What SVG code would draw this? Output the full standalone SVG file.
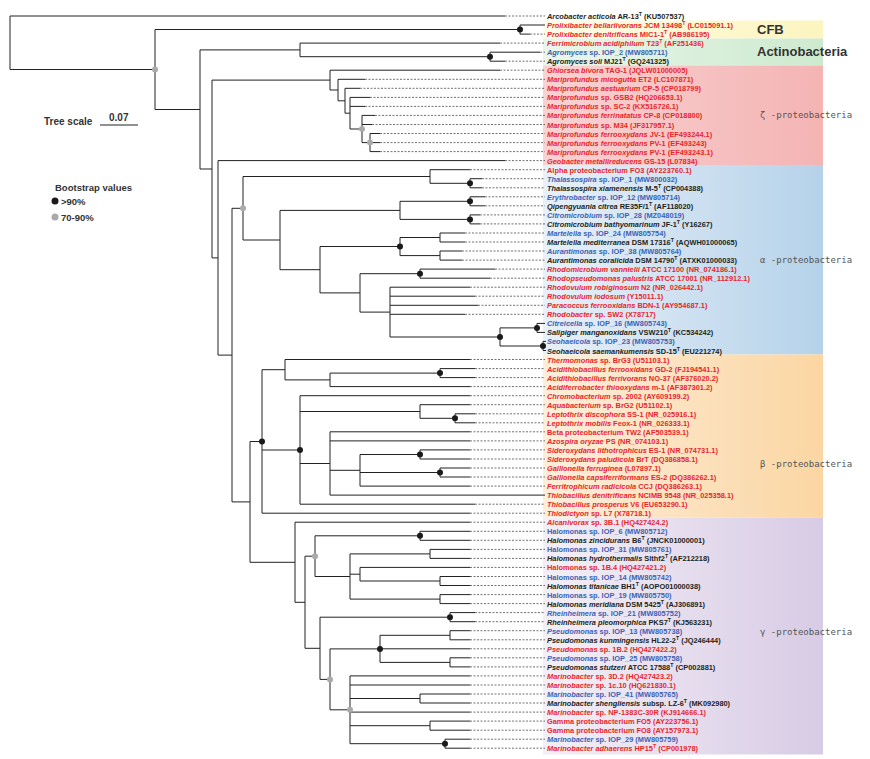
<svg xmlns="http://www.w3.org/2000/svg" width="870" height="759" viewBox="0 0 870 759">
<defs>
<style>
.t{font-family:"Liberation Sans",Arial,sans-serif;font-size:7.4px;font-weight:bold}
.r{fill:#e8262b}.b{fill:#3b62b4}.k{fill:#231f20}
.i{font-style:italic}.s{font-size:5.2px}
.br{stroke:#222;stroke-width:1;fill:none}
.ld{stroke:#333;stroke-width:0.7;stroke-dasharray:2 1.5;fill:none}
.d1{fill:#1a1a1a}.d2{fill:#aaaaaa}
.gl{font-family:"Liberation Sans",Arial,sans-serif;font-size:13px;font-weight:bold;fill:#333}
.gp{font-family:"DejaVu Sans Mono",monospace;font-size:9px;fill:#555}
.lg{font-family:"Liberation Sans",Arial,sans-serif;font-weight:bold;fill:#333}
</style>
<linearGradient id="gC" x1="0" x2="1"><stop offset="0" stop-color="#fffbe8"/><stop offset="1" stop-color="#fcf5bf"/></linearGradient>
<linearGradient id="gA" x1="0" x2="1"><stop offset="0" stop-color="#eaf6ea"/><stop offset="1" stop-color="#cdeacf"/></linearGradient>
<linearGradient id="gZ" x1="0" x2="1"><stop offset="0" stop-color="#f9d2d2"/><stop offset="1" stop-color="#f4b4b4"/></linearGradient>
<linearGradient id="gAl" x1="0" x2="1"><stop offset="0" stop-color="#e8f0f8"/><stop offset="1" stop-color="#b5d2ea"/></linearGradient>
<linearGradient id="gB" x1="0" x2="1"><stop offset="0" stop-color="#fdeedb"/><stop offset="1" stop-color="#fbd6a3"/></linearGradient>
<linearGradient id="gG" x1="0" x2="1"><stop offset="0" stop-color="#f3eff6"/><stop offset="1" stop-color="#d8cbe5"/></linearGradient>
</defs>
<rect width="870" height="759" fill="#fff"/>
<g id="bands">
<rect x="543" y="20.5" width="280" height="18" fill="url(#gC)"/>
<rect x="543" y="38.5" width="280" height="27" fill="url(#gA)"/>
<rect x="543" y="65.5" width="280" height="99.5" fill="url(#gZ)"/>
<rect x="543" y="165" width="280" height="189.5" fill="url(#gAl)"/>
<rect x="543" y="354.5" width="280" height="163" fill="url(#gB)"/>
<rect x="543" y="517.5" width="280" height="237" fill="url(#gG)"/>
<text class="gl" x="757" y="34">CFB</text>
<text class="gl" x="757" y="56">Actinobacteria</text>
<text class="gp" x="760" y="118">ζ -proteobacteria</text>
<text class="gp" x="760" y="263">α -proteobacteria</text>
<text class="gp" x="760" y="467">β -proteobacteria</text>
<text class="gp" x="760" y="635">γ -proteobacteria</text>
</g>
<g id="legend">
<text class="lg" x="44" y="125" font-size="10">Tree scale</text>
<text class="lg" x="109" y="121" font-size="10">0.07</text>
<path d="M100 125H138" class="br"/>
<text class="lg" x="55" y="191" font-size="9.5">Bootstrap values</text>
<circle cx="55" cy="201" r="3.5" class="d1"/>
<text class="lg" x="61" y="204.5" font-size="9.5" font-weight="normal">&gt;90%</text>
<circle cx="55" cy="217" r="3.5" class="d2"/>
<text class="lg" x="61" y="221" font-size="9.5" font-weight="normal">70-90%</text>
</g>
<g id="connectors">
<path class="br" d="M10 16V69.5M10 16H505M10 69.5H155
M155 29.5V109.5M155 29.5H520M155 109.5H200
M520 25V34.1M520 25H545M520 34.1H530
M200 49.9V169M200 49.9H300M200 169H212
M300 43.1V56.7M300 43.1H500M300 56.7H490M490 52.2V61.2M490 52.2H540M490 61.2H505
M212 80.1V257.9M212 80.1H330M212 257.9H218
M330 70.2V90M330 70.2H500M330 90H338M338 79.3V100.8M338 79.3H365M338 100.8H345
M345 88.3V113.2M345 88.3H360M345 113.2H350M350 97.4V129M350 97.4H370M350 106.4H365M350 129H362
M362 115.4V142.6M362 115.4H375M362 124.5H372M362 142.6H370M370 133.5V151.6M370 133.5H380M370 142.6H380M370 151.6H380
M218 160.6V355.1M218 160.6H505M218 355.1H232
M232 208.3V501.9M232 208.3H243M232 501.9H250
M243 176.5V240M243 176.5H430M243 240H280
M280 210.4V269.7M280 210.4H400M280 269.7H320
M430 169.7V183.3M430 169.7H470M430 183.3H470M470 178.7V187.8M470 178.7H482M470 187.8H482
M400 201.3V219.4M400 201.3H470M400 219.4H470M470 196.8V205.8M470 196.8H485M470 205.8H485M470 214.9V223.9M470 214.9H480M470 223.9H480
M320 246.5V292.9M320 246.5H400M320 292.9H360
M400 237.5V255.6M400 237.5H440M400 255.6H440M440 233V242M440 233H465M440 242H465M440 251V260.1M440 251H462M440 260.1H462
M360 273.7V312.1M360 273.7H420M360 312.1H390M420 269.1V278.2M420 269.1H495M420 278.2H490
M390 287.2V337M390 287.2H470M390 296.2H475M390 305.3H478M390 314.3H465M390 337H500
M500 327.9V346M500 327.9H537M500 346H543M537 323.4V332.4M537 323.4H545M537 332.4H545M543 341.4V350.5M543 341.4H546M543 350.5H546
M250 441.5V562.3M250 441.5H262M250 562.3H295
M262 369.7V513.2M262 369.7H285M262 450H300M262 513.2H470
M285 359.5V379.9M285 359.5H470M285 379.9H330M330 373.1V386.6M330 373.1H440M330 386.6H470M440 368.6V377.6M440 368.6H475M440 377.6H475
M300 395.7V504.2M300 395.7H470M300 411.5H420M300 463.5H330M300 504.2H475
M420 404.7V418.3M420 404.7H470M420 418.3H455M455 413.8V422.8M455 413.8H475M455 422.8H475
M330 431.8V495.1M330 431.8H470M330 440.9H470M330 470.3H360M330 495.1H545
M360 454.5V486.1M360 454.5H420M360 472.5H440M360 486.1H470M420 449.9V459M420 449.9H470M420 459H470M440 468V477M440 468H470M440 477H470
M295 522.2V602.3M295 522.2H470M295 602.3H305
M305 556.2V648.3M305 556.2H315M305 648.3H320
M315 535.8V576.5M315 535.8H420M315 576.5H350M420 531.3V540.3M420 531.3H470M420 540.3H470
M350 553.9V599.1M350 553.9H430M350 574.2H360M350 599.1H440M430 549.4V558.4M430 549.4H470M430 558.4H470
M360 567.4V581M360 567.4H470M360 581H440M440 576.5V585.5M440 576.5H470M440 585.5H470M440 594.6V603.6M440 594.6H470M440 603.6H470
M320 617.2V679.4M320 617.2H450M320 679.4H330M450 612.6V621.7M450 612.6H475M450 621.7H475
M330 648.9V709.8M330 648.9H380M330 709.8H350
M380 635.3V662.4M380 635.3H450M380 648.8H470M380 662.4H450M450 630.7V639.8M450 630.7H470M450 639.8H470M450 657.8V666.9M450 657.8H470M450 666.9H470
M350 675.9V743.7M350 675.9H470M350 685H470M350 698.5H420M350 712.1H470M350 725.7H430M350 743.7H445
M420 694V703M420 694H470M420 703H470M430 721.1V730.2M430 721.1H470M430 730.2H470M445 739.2V748.2M445 739.2H470M445 748.2H470"/>
<path class="ld" d="M505 16H545M530 34.1H545M500 43.1H545M540 52.2H545M505 61.2H545M500 70.2H545M365 79.3H545M360 88.3H545M370 97.4H545M365 106.4H545M375 115.4H545M372 124.5H545M380 133.5H545M380 142.6H545M380 151.6H545M505 160.6H545
M470 169.7H545M482 178.7H545M482 187.8H545M485 196.8H545M485 205.8H545M480 214.9H545M480 223.9H545M465 233H545M465 242H545M462 251H545M462 260.1H545M495 269.1H545M490 278.2H545M470 287.2H545M475 296.2H545M478 305.3H545M465 314.3H545
M470 359.5H545M475 368.6H545M475 377.6H545M470 386.6H545M470 395.7H545M470 404.7H545M475 413.8H545M475 422.8H545M470 431.8H545M470 440.9H545M470 449.9H545M470 459H545M470 468H545M470 477H545M470 486.1H545M475 504.2H545M470 513.2H545
M470 522.2H545M470 531.3H545M470 540.3H545M470 549.4H545M470 558.4H545M470 567.4H545M470 576.5H545M470 585.5H545M470 594.6H545M470 603.6H545M475 612.6H545M475 621.7H545M470 630.7H545M470 639.8H545M470 648.8H545M470 657.8H545M470 666.9H545M470 675.9H545M470 685H545M470 694H545M470 703H545M470 712.1H545M470 721.1H545M470 730.2H545M470 739.2H545M470 748.2H545"/>
<g class="d1">
<circle cx="520" cy="29.5" r="3"/><circle cx="490" cy="56.7" r="3"/><circle cx="470" cy="183.3" r="3"/><circle cx="470" cy="201.3" r="3"/><circle cx="470" cy="219.4" r="3"/><circle cx="400" cy="246.5" r="3"/><circle cx="420" cy="273.7" r="3"/><circle cx="537" cy="327.9" r="3"/><circle cx="543" cy="346" r="3"/><circle cx="500" cy="337" r="3"/><circle cx="440" cy="373.1" r="3"/><circle cx="262" cy="441.5" r="3"/><circle cx="455" cy="418.3" r="3"/><circle cx="420" cy="454.5" r="3"/><circle cx="440" cy="472.5" r="3"/><circle cx="300" cy="450" r="3"/><circle cx="420" cy="535.8" r="3"/><circle cx="450" cy="617.2" r="3"/><circle cx="380" cy="648.9" r="3"/><circle cx="445" cy="743.7" r="3"/>
</g>
<g class="d2">
<circle cx="155" cy="69.5" r="3"/><circle cx="243" cy="208.3" r="3"/><circle cx="370" cy="142.6" r="3"/><circle cx="362" cy="129" r="3"/><circle cx="315" cy="556.2" r="3"/><circle cx="330" cy="679.4" r="3"/><circle cx="350" cy="709.8" r="3"/>
</g>
</g>
<g id="leaves" class="t">
<text x="547" y="19" class="k"><tspan class="i">Arcobacter acticola</tspan> AR-13<tspan class="s" dy="-3">T</tspan><tspan dy="3"> (KU507537)</tspan></text>
<text x="547" y="28" class="r"><tspan class="i">Prolixibacter bellariivorans</tspan> JCM 13498<tspan class="s" dy="-3">T</tspan><tspan dy="3"> (LC015091.1)</tspan></text>
<text x="547" y="37.1" class="r"><tspan class="i">Prolixibacter denitrificans</tspan> MIC1-1<tspan class="s" dy="-3">T</tspan><tspan dy="3"> (AB986195)</tspan></text>
<text x="547" y="46.1" class="r"><tspan class="i">Ferrimicrobium acidiphilum</tspan> T23<tspan class="s" dy="-3">T</tspan><tspan dy="3"> (AF251436)</tspan></text>
<text x="547" y="55.2" class="b"><tspan class="i">Agromyces</tspan> sp. IOP_2 (MW805711)</text>
<text x="547" y="64.2" class="k"><tspan class="i">Agromyces soli</tspan> MJ21<tspan class="s" dy="-3">T</tspan><tspan dy="3"> (GQ241325)</tspan></text>
<text x="547" y="73.2" class="r"><tspan class="i">Ghiorsea bivora</tspan> TAG-1 (JQLW01000005)</text>
<text x="547" y="82.3" class="r"><tspan class="i">Mariprofundus micogutta</tspan> ET2 (LC107871)</text>
<text x="547" y="91.3" class="r"><tspan class="i">Mariprofundus aestuarium</tspan> CP-5 (CP018799)</text>
<text x="547" y="100.4" class="r"><tspan class="i">Mariprofundus</tspan> sp. GSB2 (HQ206653.1)</text>
<text x="547" y="109.4" class="r"><tspan class="i">Mariprofundus</tspan> sp. SC-2 (KX516726.1)</text>
<text x="547" y="118.4" class="r"><tspan class="i">Mariprofundus ferrinatatus</tspan> CP-8 (CP018800)</text>
<text x="547" y="127.5" class="r"><tspan class="i">Mariprofundus</tspan> sp. M34 (JF317957.1)</text>
<text x="547" y="136.5" class="r"><tspan class="i">Mariprofundus ferrooxydans</tspan> JV-1 (EF493244.1)</text>
<text x="547" y="145.6" class="r"><tspan class="i">Mariprofundus ferrooxydans</tspan> PV-1 (EF493243)</text>
<text x="547" y="154.6" class="r"><tspan class="i">Mariprofundus ferrooxydans</tspan> PV-1 (EF493243.1)</text>
<text x="547" y="163.6" class="r"><tspan class="i">Geobacter metallireducens</tspan> GS-15  (L07834)</text>
<text x="547" y="172.7" class="r">Alpha proteobacterium FO3 (AY223760.1)</text>
<text x="547" y="181.7" class="b"><tspan class="i">Thalassospira</tspan> sp. IOP_1 (MW800032)</text>
<text x="547" y="190.8" class="k"><tspan class="i">Thalassospira xiamenensis</tspan> M-5<tspan class="s" dy="-3">T</tspan><tspan dy="3"> (CP004388)</tspan></text>
<text x="547" y="199.8" class="b"><tspan class="i">Erythrobacter</tspan> sp. IOP_12 (MW805714)</text>
<text x="547" y="208.8" class="k"><tspan class="i">Qipengyuania citrea</tspan> RE35F/1<tspan class="s" dy="-3">T</tspan><tspan dy="3"> (AF118020)</tspan></text>
<text x="547" y="217.9" class="b"><tspan class="i">Citromicrobium</tspan> sp. IOP_28 (MZ048019)</text>
<text x="547" y="226.9" class="k"><tspan class="i">Citromicrobium bathyomarinum</tspan> JF-1<tspan class="s" dy="-3">T</tspan><tspan dy="3"> (Y16267)</tspan></text>
<text x="547" y="236" class="b"><tspan class="i">Martelella</tspan> sp. IOP_24 (MW805754)</text>
<text x="547" y="245" class="k"><tspan class="i">Martelella mediterranea</tspan> DSM 17316<tspan class="s" dy="-3">T</tspan><tspan dy="3"> (AQWH01000065)</tspan></text>
<text x="547" y="254" class="b"><tspan class="i">Aurantimonas</tspan> sp. IOP_38 (MW805764)</text>
<text x="547" y="263.1" class="k"><tspan class="i">Aurantimonas coralicida</tspan> DSM 14790<tspan class="s" dy="-3">T</tspan><tspan dy="3"> (ATXK01000033)</tspan></text>
<text x="547" y="272.1" class="r"><tspan class="i">Rhodomicrobium vannielii</tspan> ATCC 17100 (NR_074186.1)</text>
<text x="547" y="281.2" class="r"><tspan class="i">Rhodopseudomonas palustris</tspan> ATCC 17001 (NR_112912.1)</text>
<text x="547" y="290.2" class="r"><tspan class="i">Rhodovulum robiginosum</tspan> N2 (NR_026442.1)</text>
<text x="547" y="299.2" class="r"><tspan class="i">Rhodovulum iodosum</tspan> (Y15011.1)</text>
<text x="547" y="308.3" class="r"><tspan class="i">Paracoccus ferrooxidans</tspan> BDN-1 (AY954687.1)</text>
<text x="547" y="317.3" class="r"><tspan class="i">Rhodobacter</tspan> sp. SW2 (X78717)</text>
<text x="547" y="326.4" class="b"><tspan class="i">Citreicella</tspan> sp. IOP_16 (MW805743)</text>
<text x="547" y="335.4" class="k"><tspan class="i">Salipiger manganoxidans</tspan> VSW210<tspan class="s" dy="-3">T</tspan><tspan dy="3"> (KC534242)</tspan></text>
<text x="547" y="344.4" class="b"><tspan class="i">Seohaeicola</tspan> sp. IOP_23 (MW805753)</text>
<text x="547" y="353.5" class="k"><tspan class="i">Seohaeicola saemankumensis</tspan> SD-15<tspan class="s" dy="-3">T</tspan><tspan dy="3"> (EU221274)</tspan></text>
<text x="547" y="362.5" class="r"><tspan class="i">Thermomonas</tspan> sp. BrG3 (U51103.1)</text>
<text x="547" y="371.6" class="r"><tspan class="i">Acidithiobacillus ferrooxidans</tspan> GD-2 (FJ194541.1)</text>
<text x="547" y="380.6" class="r"><tspan class="i">Acidithiobacillus ferrivorans</tspan> NO-37 (AF376020.2)</text>
<text x="547" y="389.6" class="r"><tspan class="i">Acidiferrobacter thiooxydans</tspan> m-1 (AF387301.2)</text>
<text x="547" y="398.7" class="r"><tspan class="i">Chromobacterium</tspan> sp. 2002 (AY609199.2)</text>
<text x="547" y="407.7" class="r"><tspan class="i">Aquabacterium</tspan> sp. BrG2 (U51102.1)</text>
<text x="547" y="416.8" class="r"><tspan class="i">Leptothrix discophora</tspan> SS-1 (NR_025916.1)</text>
<text x="547" y="425.8" class="r"><tspan class="i">Leptothrix mobilis</tspan> Feox-1 (NR_026333.1)</text>
<text x="547" y="434.8" class="r">Beta proteobacterium TW2 (AF503539.1)</text>
<text x="547" y="443.9" class="r"><tspan class="i">Azospira oryzae</tspan> PS (NR_074103.1)</text>
<text x="547" y="452.9" class="r"><tspan class="i">Sideroxydans lithotrophicus</tspan> ES-1 (NR_074731.1)</text>
<text x="547" y="462" class="r"><tspan class="i">Sideroxydans paludicola</tspan> BrT (DQ386858.1)</text>
<text x="547" y="471" class="r"><tspan class="i">Gallionella ferruginea</tspan> (L07897.1)</text>
<text x="547" y="480" class="r"><tspan class="i">Gallionella capsiferriformans</tspan> ES-2 (DQ386262.1)</text>
<text x="547" y="489.1" class="r"><tspan class="i">Ferritrophicum radicicola</tspan> CCJ (DQ386263.1)</text>
<text x="547" y="498.1" class="r"><tspan class="i">Thiobacillus denitrificans</tspan> NCIMB 9548 (NR_025358.1)</text>
<text x="547" y="507.2" class="r"><tspan class="i">Thiobacillus prosperus</tspan> V6 (EU653290.1)</text>
<text x="547" y="516.2" class="r"><tspan class="i">Thiodictyon</tspan> sp. L7 (X78718.1)</text>
<text x="547" y="525.2" class="r"><tspan class="i">Alcanivorax</tspan> sp. 3B.1 (HQ427424.2)</text>
<text x="547" y="534.3" class="b">Halomonas sp. IOP_6 (MW805712)</text>
<text x="547" y="543.3" class="k"><tspan class="i">Halomonas zincidurans</tspan> B6<tspan class="s" dy="-3">T</tspan><tspan dy="3"> (JNCK01000001)</tspan></text>
<text x="547" y="552.4" class="b">Halomonas sp. IOP_31 (MW805761)</text>
<text x="547" y="561.4" class="k"><tspan class="i">Halomonas hydrothermalis</tspan> Slthf2<tspan class="s" dy="-3">T</tspan><tspan dy="3"> (AF212218)</tspan></text>
<text x="547" y="570.4" class="r">Halomonas sp. 1B.4 (HQ427421.2)</text>
<text x="547" y="579.5" class="b">Halomonas sp. IOP_14 (MW805742)</text>
<text x="547" y="588.5" class="k"><tspan class="i">Halomonas titanicae</tspan> BH1<tspan class="s" dy="-3">T</tspan><tspan dy="3"> (AOPO01000038)</tspan></text>
<text x="547" y="597.6" class="b">Halomonas sp. IOP_19 (MW805750)</text>
<text x="547" y="606.6" class="k"><tspan class="i">Halomonas meridiana</tspan> DSM 5425<tspan class="s" dy="-3">T</tspan><tspan dy="3"> (AJ306891)</tspan></text>
<text x="547" y="615.6" class="b"><tspan class="i">Rheinheimera</tspan> sp. IOP_21 (MW805752)</text>
<text x="547" y="624.7" class="k"><tspan class="i">Rheinheimera pleomorphica</tspan> PKS7<tspan class="s" dy="-3">T</tspan><tspan dy="3"> (KJ563231)</tspan></text>
<text x="547" y="633.7" class="b"><tspan class="i">Pseudomonas</tspan> sp. IOP_13 (MW805738)</text>
<text x="547" y="642.8" class="k"><tspan class="i">Pseudomonas kunmingensis</tspan> HL22-2<tspan class="s" dy="-3">T</tspan><tspan dy="3"> (JQ246444)</tspan></text>
<text x="547" y="651.8" class="r"><tspan class="i">Pseudomonas</tspan> sp. 1B.2 (HQ427422.2)</text>
<text x="547" y="660.8" class="b"><tspan class="i">Pseudomonas</tspan> sp. IOP_25 (MW805758)</text>
<text x="547" y="669.9" class="k"><tspan class="i">Pseudomonas stutzeri</tspan> ATCC 17588<tspan class="s" dy="-3">T</tspan><tspan dy="3"> (CP002881)</tspan></text>
<text x="547" y="678.9" class="r"><tspan class="i">Marinobacter</tspan> sp. 3D.2 (HQ427423.2)</text>
<text x="547" y="688" class="r"><tspan class="i">Marinobacter</tspan> sp. 1c.10 (HQ621830.1)</text>
<text x="547" y="697" class="b"><tspan class="i">Marinobacter</tspan> sp. IOP_41 (MW805765)</text>
<text x="547" y="706" class="k"><tspan class="i">Marinobacter shengliensis</tspan> subsp. LZ-6<tspan class="s" dy="-3">T</tspan><tspan dy="3"> (MK092980)</tspan></text>
<text x="547" y="715.1" class="r"><tspan class="i">Marinobacter</tspan> sp. NP-1383C-30R (KJ914666.1)</text>
<text x="547" y="724.1" class="r">Gamma proteobacterium FO5 (AY223756.1)</text>
<text x="547" y="733.2" class="r">Gamma proteobacterium FO8 (AY157973.1)</text>
<text x="547" y="742.2" class="b"><tspan class="i">Marinobacter</tspan> sp. IOP_29 (MW805759)</text>
<text x="547" y="751.2" class="r"><tspan class="i">Marinobacter adhaerens</tspan> HP15<tspan class="s" dy="-3">T</tspan><tspan dy="3"> (CP001978)</tspan></text>
</g>
</svg>
